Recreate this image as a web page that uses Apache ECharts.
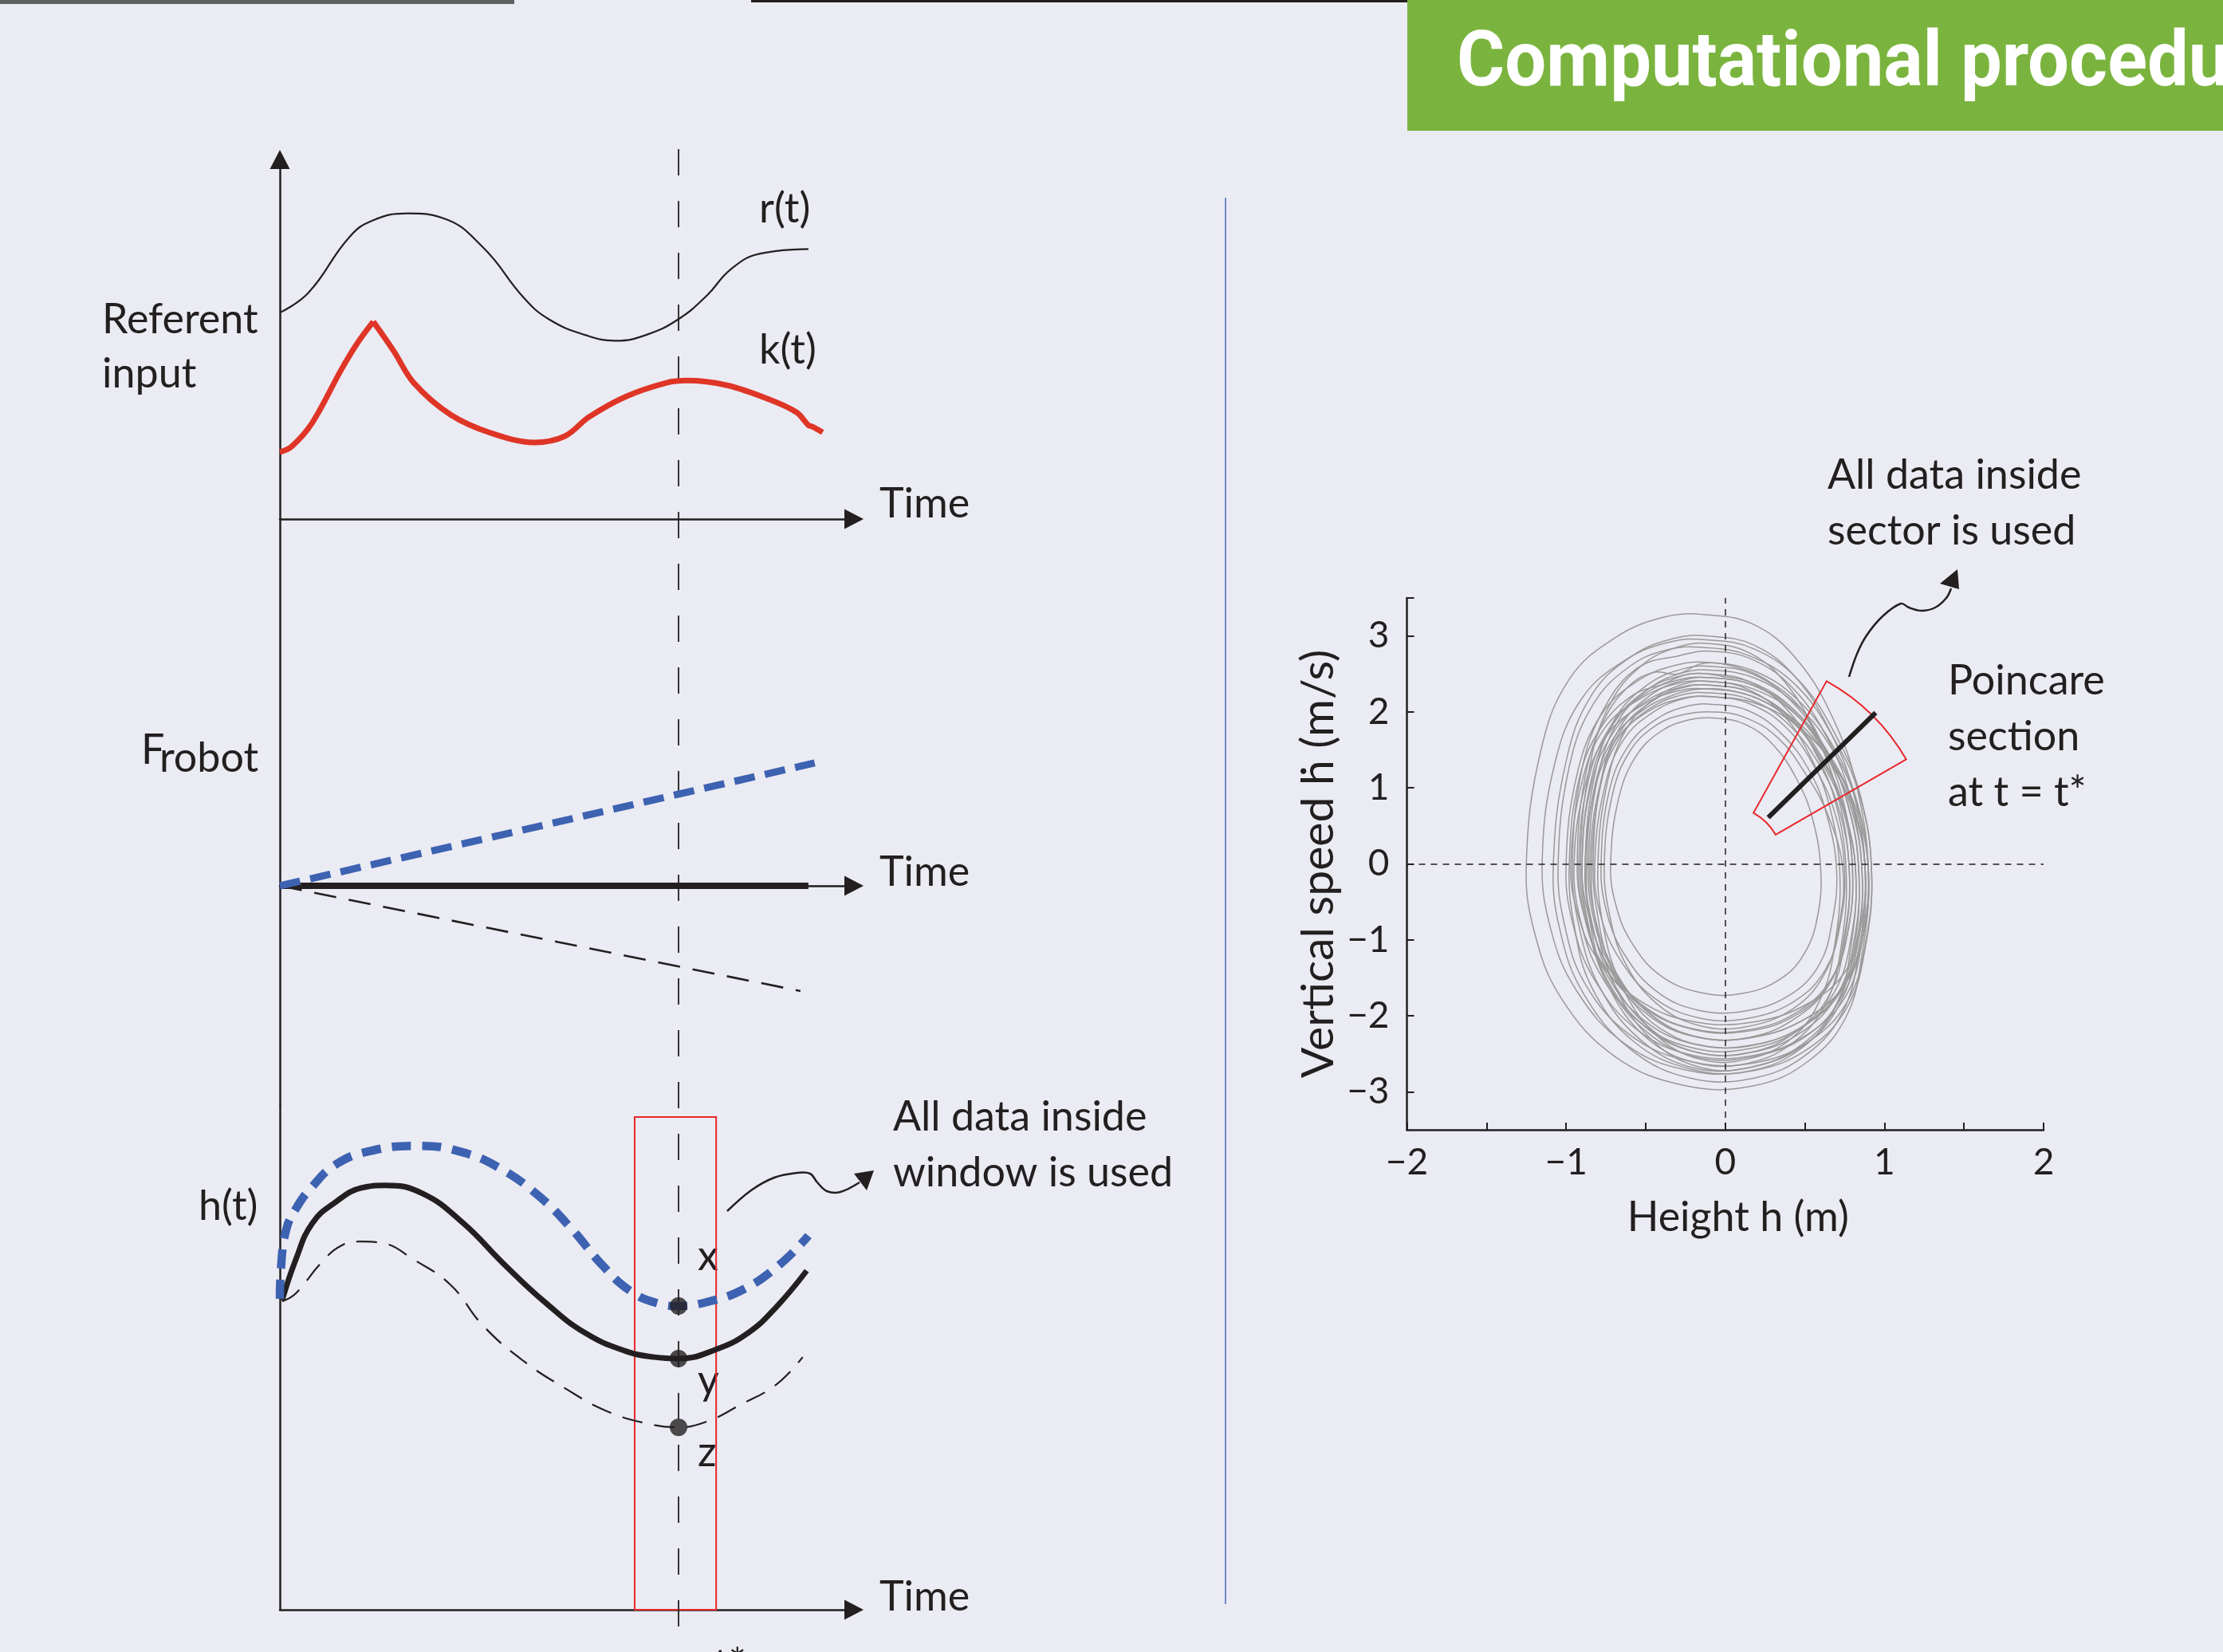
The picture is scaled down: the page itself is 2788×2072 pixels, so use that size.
<!DOCTYPE html>
<html><head><meta charset="utf-8">
<script src="https://cdn.jsdelivr.net/npm/echarts@6/dist/echarts.min.js"></script>
<style>html,body{margin:0;padding:0;background:#ebebf3;}#c{width:2788px;height:2072px;}</style>
</head><body><div id="c"></div>
<script>
// ---------- Panel 1: referent input ----------
const r_time  = [0, 0.5, 1.22, 1.64, 2.25, 2.86, 3.57, 4.28, 4.72, 5.36, 5.89, 6.43, 7.0, 7.5, 7.92, 8.43, 9.28];
const r_value = [5.74, 6.29, 7.84, 8.31, 8.5, 8.37, 7.55, 6.16, 5.56, 5.12, 4.96, 5.12, 5.56, 6.22, 6.95, 7.38, 7.51];
const k_time  = [0, 0.21, 0.57, 1.08, 1.36, 1.64, 2.0, 2.35, 3.0, 3.71, 4.47, 5.0, 5.43, 6.08, 6.79, 7.14, 7.85, 8.57, 9.07, 9.28, 9.35, 9.53];
const k_value = [1.86, 2.02, 2.68, 4.16, 4.89, 5.49, 4.67, 3.79, 2.9, 2.39, 2.13, 2.3, 2.84, 3.41, 3.79, 3.85, 3.72, 3.34, 2.97, 2.61, 2.57, 2.41];
// ---------- Panel 2: F robot ----------
const f_time      = [0, 9.39];
const f_upper     = [0, 3.35];
const f_mid_time  = [0, 9.28];
const f_mid       = [0, 0];
const f_low_time  = [0, 9.14];
const f_lower     = [0, -2.87];
// ---------- Panel 3: h(t) ----------
const hx_time  = [0, 0.02, 0.11, 0.28, 0.57, 0.99, 1.57, 2.42, 3.14, 3.86, 4.58, 5.14, 5.64, 6.15, 6.64, 7.0, 7.5, 8.15, 8.79, 9.28];
const hx_value = [8.64, 9.5, 10.55, 11.14, 11.76, 12.38, 12.74, 12.89, 12.74, 12.27, 11.45, 10.55, 9.61, 8.86, 8.51, 8.44, 8.55, 8.91, 9.61, 10.39];
const hy_time  = [0.04, 0.28, 0.57, 0.99, 1.43, 1.86, 2.51, 3.22, 3.93, 4.65, 5.36, 6.08, 6.57, 7.0, 7.64, 8.22, 8.71, 9.25];
const hy_value = [8.6, 9.73, 10.74, 11.34, 11.72, 11.79, 11.56, 10.74, 9.61, 8.55, 7.69, 7.18, 7.02, 6.98, 7.22, 7.69, 8.4, 9.42];
const hz_time  = [0.04, 0.28, 0.71, 1.08, 1.43, 1.79, 2.35, 3.0, 3.57, 4.28, 5.0, 5.71, 6.43, 7.0, 7.5, 8.08, 8.71, 9.18];
const hz_value = [8.57, 8.79, 9.61, 10.12, 10.23, 10.19, 9.73, 9.02, 7.89, 6.91, 6.16, 5.54, 5.18, 5.07, 5.23, 5.69, 6.25, 7.02];
const t_star = 7;
const point_values = [8.44, 6.98, 5.07];
const window_range = [6.23, 7.66];
const window_top = 13.69;
// ---------- Phase portrait (h, dh/dt) ----------
const loop01 = [[-1.25,0],[-1.16,1.48],[-0.98,2.43],[-0.69,2.98],[-0.38,3.25],[-0.13,3.28],[0.18,3.15],[0.45,2.69],[0.68,1.90],[0.83,0.98],[0.90,-0.15],[0.86,-1.18],[0.76,-2.01],[0.52,-2.60],[0.18,-2.92],[-0.25,-2.92],[-0.69,-2.54],[-1.03,-1.77],[-1.20,-0.89],[-1.25,0]];
const loop02 = [[-1.15,0.05],[-1.07,1.33],[-0.90,2.18],[-0.63,2.68],[-0.35,2.92],[-0.12,2.95],[0.18,2.83],[0.46,2.42],[0.69,1.71],[0.85,0.89],[0.92,-0.14],[0.88,-1.10],[0.77,-1.87],[0.53,-2.42],[0.18,-2.72],[-0.23,-2.72],[-0.63,-2.37],[-0.94,-1.65],[-1.10,-0.83],[-1.15,0.05]];
const loop03 = [[-1.00,0],[-0.93,1.19],[-0.78,1.96],[-0.55,2.41],[-0.30,2.62],[-0.10,2.65],[0.18,2.54],[0.45,2.17],[0.68,1.54],[0.83,0.80],[0.90,-0.13],[0.86,-1.02],[0.76,-1.73],[0.52,-2.24],[0.18,-2.52],[-0.20,-2.52],[-0.55,-2.19],[-0.82,-1.53],[-0.96,-0.77],[-1.00,0]];
const loop04 = [[-0.96,0.02],[-0.90,1.25],[-0.76,2.05],[-0.55,2.58],[-0.29,2.74],[-0.10,2.80],[0.17,2.69],[0.43,2.30],[0.65,1.62],[0.79,0.84],[0.86,-0.14],[0.83,-1.08],[0.72,-1.84],[0.50,-2.38],[0.17,-2.67],[-0.19,-2.69],[-0.53,-2.32],[-0.79,-1.62],[-0.92,-0.81],[-0.96,0.02]];
const loop05 = [[-0.92,0],[-0.86,1.10],[-0.72,1.81],[-0.51,2.23],[-0.28,2.43],[-0.09,2.45],[0.18,2.35],[0.44,2.01],[0.66,1.42],[0.81,0.74],[0.88,-0.12],[0.84,-0.96],[0.74,-1.63],[0.51,-2.11],[0.18,-2.38],[-0.18,-2.38],[-0.51,-2.06],[-0.75,-1.44],[-0.88,-0.72],[-0.92,0]];
const loop06 = [[-0.90,0],[-0.84,1.06],[-0.70,1.74],[-0.50,2.14],[-0.27,2.33],[-0.09,2.35],[0.16,2.26],[0.40,1.93],[0.60,1.36],[0.74,0.71],[0.80,-0.11],[0.77,-0.88],[0.67,-1.50],[0.46,-1.94],[0.16,-2.18],[-0.18,-2.18],[-0.50,-1.89],[-0.74,-1.32],[-0.86,-0.66],[-0.90,0]];
const loop07 = [[-0.88,0],[-0.82,1.17],[-0.69,1.92],[-0.48,2.37],[-0.26,2.57],[-0.09,2.60],[0.17,2.50],[0.42,2.13],[0.63,1.51],[0.77,0.78],[0.84,-0.13],[0.81,-1.00],[0.71,-1.70],[0.49,-2.20],[0.17,-2.48],[-0.18,-2.48],[-0.48,-2.15],[-0.72,-1.50],[-0.84,-0.75],[-0.88,0]];
const loop08 = [[-0.85,0],[-0.79,1.01],[-0.66,1.67],[-0.47,2.05],[-0.26,2.23],[-0.09,2.25],[0.16,2.16],[0.39,1.85],[0.59,1.31],[0.72,0.68],[0.78,-0.12],[0.75,-0.92],[0.66,-1.56],[0.45,-2.02],[0.16,-2.28],[-0.17,-2.28],[-0.47,-1.98],[-0.70,-1.38],[-0.82,-0.69],[-0.85,0]];
const loop09 = [[-0.82,0],[-0.76,0.99],[-0.64,1.63],[-0.45,2.00],[-0.25,2.18],[-0.08,2.20],[0.15,2.11],[0.38,1.80],[0.56,1.28],[0.69,0.66],[0.75,-0.10],[0.72,-0.82],[0.63,-1.39],[0.44,-1.80],[0.15,-2.03],[-0.16,-2.03],[-0.45,-1.76],[-0.67,-1.23],[-0.79,-0.62],[-0.82,0]];
const loop10 = [[-0.80,0],[-0.74,1.08],[-0.62,1.78],[-0.44,2.18],[-0.24,2.38],[-0.08,2.40],[0.14,2.30],[0.36,1.97],[0.54,1.39],[0.66,0.72],[0.72,-0.13],[0.69,-1.04],[0.60,-1.77],[0.42,-2.29],[0.14,-2.57],[-0.16,-2.57],[-0.44,-2.24],[-0.66,-1.56],[-0.77,-0.78],[-0.80,0]];
const loop11 = [[-0.78,0],[-0.73,0.95],[-0.61,1.55],[-0.43,1.91],[-0.23,2.08],[-0.08,2.10],[0.14,2.02],[0.35,1.72],[0.53,1.22],[0.64,0.63],[0.70,-0.10],[0.67,-0.78],[0.59,-1.33],[0.41,-1.72],[0.14,-1.93],[-0.16,-1.93],[-0.43,-1.68],[-0.64,-1.17],[-0.75,-0.59],[-0.78,0]];
const loop12 = [[-0.72,0],[-0.67,0.86],[-0.56,1.42],[-0.40,1.75],[-0.22,1.90],[-0.07,1.92],[0.12,1.84],[0.30,1.57],[0.45,1.11],[0.55,0.58],[0.60,-0.09],[0.58,-0.69],[0.50,-1.17],[0.35,-1.51],[0.12,-1.70],[-0.14,-1.70],[-0.40,-1.48],[-0.59,-1.03],[-0.69,-0.52],[-0.72,0]];
const loop13 = [[-0.95,0],[-0.88,1.04],[-0.74,1.70],[-0.52,2.09],[-0.29,2.28],[-0.10,2.30],[0.16,2.21],[0.41,1.89],[0.62,1.33],[0.75,0.69],[0.82,-0.12],[0.79,-0.98],[0.69,-1.67],[0.48,-2.16],[0.16,-2.43],[-0.19,-2.43],[-0.52,-2.11],[-0.78,-1.47],[-0.91,-0.74],[-0.95,0]];
const loop14 = [[-0.86,0],[-0.80,1.15],[-0.67,1.89],[-0.47,2.32],[-0.26,2.52],[-0.09,2.55],[0.18,2.45],[0.45,2.09],[0.68,1.48],[0.83,0.77],[0.90,-0.12],[0.86,-0.92],[0.76,-1.56],[0.52,-2.02],[0.18,-2.28],[-0.17,-2.28],[-0.47,-1.98],[-0.71,-1.38],[-0.83,-0.69],[-0.86,0]];
const loop15 = [[-1.08,0],[-1.00,1.35],[-0.84,2.22],[-0.59,2.73],[-0.32,2.97],[-0.11,3.00],[0.18,2.88],[0.44,2.46],[0.66,1.74],[0.81,0.90],[0.88,-0.14],[0.84,-1.14],[0.74,-1.94],[0.51,-2.51],[0.18,-2.82],[-0.22,-2.82],[-0.59,-2.45],[-0.89,-1.71],[-1.04,-0.86],[-1.08,0]];
const loop16 = [[-0.90,0],[-0.84,1.13],[-0.70,1.85],[-0.50,2.28],[-0.27,2.48],[-0.09,2.50],[0.15,2.40],[0.38,2.05],[0.57,1.45],[0.70,0.75],[0.76,-0.13],[0.73,-1.06],[0.64,-1.80],[0.44,-2.33],[0.15,-2.62],[-0.18,-2.62],[-0.50,-2.28],[-0.74,-1.59],[-0.86,-0.80],[-0.90,0]];
const loop17 = [[-0.98,0],[-0.92,1.10],[-0.78,1.80],[-0.58,2.22],[-0.40,2.36],[-0.22,2.50],[-0.02,2.47],[0.20,2.36],[0.43,2.03],[0.64,1.45],[0.78,0.72],[0.84,-0.15],[0.81,-1.10],[0.70,-1.86],[0.47,-2.44],[0.14,-2.73],[-0.22,-2.70],[-0.58,-2.33],[-0.84,-1.62],[-0.95,-0.80],[-0.98,0]];
const loop18 = [[-0.87,0.03],[-0.82,1.02],[-0.70,1.66],[-0.52,2.02],[-0.33,2.22],[-0.16,2.30],[0.06,2.27],[0.28,2.10],[0.50,1.78],[0.68,1.26],[0.82,0.62],[0.88,-0.14],[0.85,-1.00],[0.74,-1.72],[0.52,-2.25],[0.19,-2.53],[-0.17,-2.55],[-0.50,-2.20],[-0.74,-1.55],[-0.85,-0.76],[-0.87,0.03]];
const loop19 = [[-0.93,0],[-0.88,1.15],[-0.76,1.90],[-0.60,2.35],[-0.45,2.52],[-0.30,2.50],[-0.14,2.64],[0.05,2.60],[0.26,2.42],[0.47,2.06],[0.63,1.48],[0.75,0.75],[0.80,-0.10],[0.77,-0.90],[0.67,-1.52],[0.46,-1.97],[0.15,-2.20],[-0.20,-2.18],[-0.52,-1.88],[-0.77,-1.32],[-0.89,-0.66],[-0.93,0]];
const loop20 = [[-0.76,0],[-0.71,0.90],[-0.60,1.48],[-0.43,1.83],[-0.25,1.97],[-0.08,2.00],[0.12,1.93],[0.33,1.66],[0.50,1.20],[0.65,0.62],[0.74,-0.10],[0.71,-0.86],[0.62,-1.46],[0.43,-1.90],[0.14,-2.14],[-0.16,-2.13],[-0.43,-1.84],[-0.63,-1.30],[-0.73,-0.64],[-0.76,0]];
const loop21 = [[-1.05,0],[-0.98,1.28],[-0.83,2.10],[-0.60,2.60],[-0.36,2.82],[-0.14,2.85],[0.15,2.74],[0.44,2.36],[0.68,1.66],[0.85,0.86],[0.92,-0.12],[0.88,-1.05],[0.77,-1.80],[0.53,-2.33],[0.18,-2.62],[-0.22,-2.60],[-0.60,-2.25],[-0.88,-1.58],[-1.01,-0.80],[-1.05,0]];
const loop22 = [[-0.83,0],[-0.78,1.10],[-0.66,1.80],[-0.47,2.22],[-0.26,2.42],[-0.09,2.45],[0.16,2.36],[0.42,2.02],[0.64,1.42],[0.79,0.74],[0.86,-0.12],[0.83,-0.96],[0.73,-1.63],[0.50,-2.12],[0.17,-2.39],[-0.17,-2.38],[-0.42,-2.15],[-0.58,-1.82],[-0.72,-1.35],[-0.80,-0.70],[-0.83,0]];
const loop23 = [[-0.88,0],[-0.82,0.98],[-0.69,1.62],[-0.49,2.00],[-0.27,2.18],[-0.09,2.20],[0.18,2.12],[0.45,1.82],[0.68,1.30],[0.83,0.67],[0.90,-0.11],[0.87,-0.92],[0.76,-1.56],[0.52,-2.02],[0.18,-2.28],[-0.18,-2.28],[-0.49,-1.98],[-0.73,-1.38],[-0.85,-0.69],[-0.88,0]];
const loop24 = [[-0.91,0],[-0.85,1.30],[-0.72,2.12],[-0.52,2.62],[-0.29,2.86],[-0.10,2.90],[0.15,2.78],[0.38,2.38],[0.57,1.70],[0.71,0.88],[0.78,-0.13],[0.75,-1.00],[0.66,-1.70],[0.45,-2.20],[0.16,-2.48],[-0.18,-2.48],[-0.50,-2.15],[-0.75,-1.50],[-0.87,-0.75],[-0.91,0]];
const loop25 = [[-0.84,0],[-0.78,1.06],[-0.66,1.74],[-0.46,2.14],[-0.25,2.33],[-0.08,2.35],[0.16,2.26],[0.41,1.93],[0.62,1.36],[0.75,0.70],[0.82,-0.14],[0.79,-1.08],[0.70,-1.84],[0.48,-2.38],[0.16,-2.68],[-0.17,-2.67],[-0.46,-2.32],[-0.69,-1.62],[-0.81,-0.81],[-0.84,0]];
const loop26 = [[-0.97,0],[-0.90,1.08],[-0.76,1.78],[-0.53,2.18],[-0.29,2.38],[-0.10,2.40],[0.18,2.30],[0.44,1.97],[0.66,1.39],[0.81,0.72],[0.88,-0.10],[0.85,-0.84],[0.75,-1.43],[0.51,-1.85],[0.18,-2.08],[-0.19,-2.08],[-0.53,-1.81],[-0.80,-1.26],[-0.93,-0.63],[-0.97,0]];
const phase_loops = [loop01, loop02, loop03, loop04, loop05, loop06, loop07, loop08, loop09, loop10, loop11, loop12, loop13,
  loop14, loop15, loop16, loop17, loop18, loop19, loop20, loop21, loop22, loop23, loop24, loop25, loop26];
const section_h = [0.27, 0.945];
const section_v = [0.61, 1.99];
const sector_radii = [0.366, 1.313];   // in h units
const sector_angles = [30, 61];        // degrees
const y_tick_labels = [-3, -2, -1, 0, 1, 2, 3];

// ---------- styles ----------
const INK = '#231f20';
const BLUE = '#3d62b1';
const RED = '#de3526';
const FRAME_RED = '#e8272a';
const FF = 'Lato, "DejaVu Sans", sans-serif';
const zip = (a, b) => a.map((v, i) => [v, b[i]]);
const minus = v => String(v).replace('-', '\u2212');

const chart = echarts.init(document.getElementById('c'), null, {renderer: 'canvas'});

const XMAX = 10.08;
const grids = [
  {left: 351, top: 200, width: 720, height: 451},
  {left: 351, top: 651, width: 720, height: 736},
  {left: 351, top: 1387, width: 720, height: 632},
  {left: 351, top: 187, width: 720, height: 1885},
  {left: 1764.5, top: 750, width: 798.5, height: 667}
].map(g => Object.assign({containLabel: false, outerBoundsMode: 'none', show: false}, g));

function leftX(gi, show) {
  return {type: 'value', gridIndex: gi, min: 0, max: XMAX, show: show,
    axisLine: {show: true, onZero: true, symbol: ['none', 'triangle'], symbolSize: [25, 24], lineStyle: {color: INK, width: 2.5}},
    axisTick: {show: false}, axisLabel: {show: false}, splitLine: {show: false}};
}
function leftY(gi, min, max, arrow, show) {
  return {type: 'value', gridIndex: gi, min: min, max: max, show: show,
    axisLine: {show: true, onZero: false, symbol: ['none', arrow ? 'triangle' : 'none'], symbolSize: [25, 24], lineStyle: {color: INK, width: 2.5}},
    axisTick: {show: false}, axisLabel: {show: false}, splitLine: {show: false}};
}
const tickStyle = {color: INK, width: 2};
const xAxes = [leftX(0, true), leftX(1, true), leftX(2, true), leftX(3, false),
  {type: 'value', gridIndex: 4, min: -2, max: 2, interval: 1,
   axisLine: {onZero: false, lineStyle: {color: INK, width: 2.5}},
   axisTick: {inside: true, length: 9, lineStyle: tickStyle},
   minorTick: {show: true, splitNumber: 2, length: 9, lineStyle: tickStyle},
   splitLine: {show: false}, minorSplitLine: {show: false},
   axisLabel: {formatter: minus, fontSize: 46, fontFamily: FF, color: INK, margin: 18},
   name: 'Height h (m)', nameLocation: 'middle', nameGap: 84,
   nameTextStyle: {fontSize: 52, fontFamily: FF, color: INK, padding: [0, 0, 0, 32]}}];
const yAxes = [leftY(0, 0, 10, true, true), leftY(1, -6, 10, false, true), leftY(2, 0, 14, false, true),
  {type: 'value', gridIndex: 3, min: 0, max: 1, show: false},
  {type: 'value', gridIndex: 4, min: -3.5, max: 3.5,
   axisLine: {show: true, onZero: false, lineStyle: {color: INK, width: 2.5}},
   axisTick: {show: true, inside: true, length: 9, lineStyle: tickStyle, customValues: y_tick_labels.concat([3.5])},
   splitLine: {show: false},
   axisLabel: {formatter: minus, fontSize: 46, fontFamily: FF, color: INK, margin: 22, customValues: y_tick_labels},
   name: 'Vertical speed \u1E23 (m/s)', nameLocation: 'middle', nameGap: 82, nameRotate: 90,
   nameTextStyle: {fontSize: 57, fontFamily: FF, color: INK}}];

const series = [];
function line(gi, data, color, width, type, smooth, extra) {
  return Object.assign({type: 'line', xAxisIndex: gi, yAxisIndex: gi, data: data, smooth: smooth,
    showSymbol: false, silent: true, animation: false, clip: false,
    lineStyle: {color: color, width: width, type: type || 'solid', cap: 'butt'}}, extra || {});
}
// panel 1
series.push(line(0, zip(r_time, r_value), INK, 2.2, 'solid', 0.45));
const kAll = zip(k_time, k_value);
const kPeak = k_value.indexOf(Math.max.apply(null, k_value));
series.push(line(0, kAll.slice(0, kPeak + 1), RED, 7, 'solid', 0.35));
series.push(line(0, kAll.slice(kPeak), RED, 7, 'solid', 0.35));
// panel 2
series.push(line(1, zip(f_low_time, f_lower), INK, 2.6, [28, 16], false));
series.push(line(1, zip(f_mid_time, f_mid), INK, 8, 'solid', false));
series.push(line(1, zip(f_time, f_upper), BLUE, 9, [26, 13], false));
// panel 3
series.push(line(2, zip(hz_time, hz_value), INK, 2.2, [26, 15], 0.45));
series.push(line(2, zip(hy_time, hy_value), INK, 7, 'solid', 0.45, {
  markArea: {silent: true, itemStyle: {color: 'rgba(0,0,0,0)', borderColor: FRAME_RED, borderWidth: 2},
    data: [[{coord: [window_range[0], window_top]}, {coord: [window_range[1], 0]}]]}}));
series.push(line(2, zip(hx_time, hx_value), BLUE, 10.5, [24, 14], 0.45));
series.push({type: 'scatter', xAxisIndex: 2, yAxisIndex: 2, symbolSize: 22, silent: true,
  itemStyle: {color: INK}, data: point_values.map(v => [t_star, v]), z: 5});
// t* line
series.push(line(3, [[t_star, 1], [t_star, 0]], INK, 1.8, [33, 32], false, {z: 1}));
// phase portrait: each closed loop drawn as a smooth closed curve through its points
series.push({type: 'custom', xAxisIndex: 4, yAxisIndex: 4, silent: true, z: 2, animation: false,
  data: phase_loops.map(l => [l[0][0], l[0][1]]),
  encode: {x: 0, y: 1},
  renderItem: function (params, api) {
    const pts = phase_loops[params.dataIndex].slice(0, -1).map(p => api.coord(p));
    return {type: 'polygon', shape: {points: pts, smooth: 0.4},
      style: {fill: 'none', stroke: '#999999', lineWidth: 1.5}};
  }});
series.push({type: 'custom', xAxisIndex: 4, yAxisIndex: 4, data: [[0, 0]], silent: true, z: 4,
  renderItem: function (params, api) {
    const c = api.coord([0, 0]);
    const s = api.size([1, 0])[0];
    return {type: 'sector', shape: {cx: c[0], cy: c[1], r0: sector_radii[0] * s, r: sector_radii[1] * s,
      startAngle: -sector_angles[1] * Math.PI / 180, endAngle: -sector_angles[0] * Math.PI / 180, clockwise: true},
      style: {fill: 'none', stroke: FRAME_RED, lineWidth: 2}};
  }});
series.push(line(4, zip(section_h, section_v), INK, 6, 'solid', false, {z: 6,
  markLine: {silent: true, symbol: ['none', 'none'], label: {show: false}, animation: false,
    lineStyle: {color: INK, width: 1.5, type: [8, 7]}, data: [{xAxis: 0}, {yAxis: 0}]}}));

// ---------- decorations ----------
function txt(x, base, s, size, extra) {
  size = size || 52;
  return Object.assign({type: 'text', x: x, y: base - 0.3 * size, silent: true,
    style: {text: s, font: size + 'px ' + FF, fill: INK, align: 'left', verticalAlign: 'middle'}}, extra || {});
}
const graphics = [
  {type: 'rect', shape: {x: 0, y: 0, width: 645, height: 5}, style: {fill: '#5f6062'}, silent: true},
  {type: 'rect', shape: {x: 942, y: 0, width: 1846, height: 3}, style: {fill: INK}, silent: true},
  {type: 'rect', shape: {x: 1765, y: 0, width: 1023, height: 164}, style: {fill: '#7ab43e'}, silent: true},
  {type: 'text', x: 1827, y: 83, scaleX: 0.95, silent: true,
   style: {text: 'Computational procedure', font: 'bold 97px Roboto', fill: '#ffffff', align: 'left', verticalAlign: 'middle'}},
  {type: 'line', shape: {x1: 1537, y1: 248, x2: 1537, y2: 2012}, style: {stroke: '#6f8bcb', lineWidth: 2}, silent: true},
  // left wavy arrow
  {type: 'polyline', shape: {points: [[912, 1519], [942, 1493], [971, 1477], [1000, 1471], [1016, 1472], [1025, 1483], [1037, 1494], [1054, 1495], [1078, 1483]], smooth: 0.35},
   style: {stroke: INK, lineWidth: 2.5, fill: null}, silent: true},
  {type: 'polygon', shape: {points: [[1071, 1472], [1087, 1493], [1096, 1468]]}, style: {fill: INK}, silent: true},
  // right wavy arrow
  {type: 'polyline', shape: {points: [[2319, 849], [2329, 820], [2341, 797], [2361, 773], [2384, 757], [2394, 762], [2410, 766], [2427, 762], [2441, 750], [2447, 738]], smooth: 0.35},
   style: {stroke: INK, lineWidth: 2.5, fill: null}, silent: true},
  {type: 'polygon', shape: {points: [[2433, 732], [2457, 739], [2455, 714]]}, style: {fill: INK}, silent: true},
  // texts
  txt(128, 417, 'Referent'), txt(128, 485, 'input'),
  txt(952, 278, 'r(t)'), txt(952, 455, 'k(t)'),
  txt(1103, 648, 'Time'), txt(1103, 1110, 'Time'), txt(1103, 2019, 'Time'),
  txt(177, 957, 'F'), txt(200, 967, 'robot'),
  txt(249, 1529, 'h(t)'),
  txt(875, 1592, 'x'), txt(875, 1748, 'y'), txt(875, 1838, 'z'),
  txt(1120, 1417, 'All data inside'), txt(1120, 1487, 'window is used'),
  txt(895, 2104, 't*'),
  txt(2292, 612, 'All data inside'), txt(2292, 682, 'sector is used'),
  txt(2443, 870, 'Poincare'), txt(2443, 940, 'section'), txt(2443, 1010, 'at t = t*')
];

chart.setOption({
  backgroundColor: '#ebebf3',
  animation: false,
  grid: grids,
  xAxis: xAxes,
  yAxis: yAxes,
  series: series,
  graphic: {elements: graphics}
});
</script></body></html>
